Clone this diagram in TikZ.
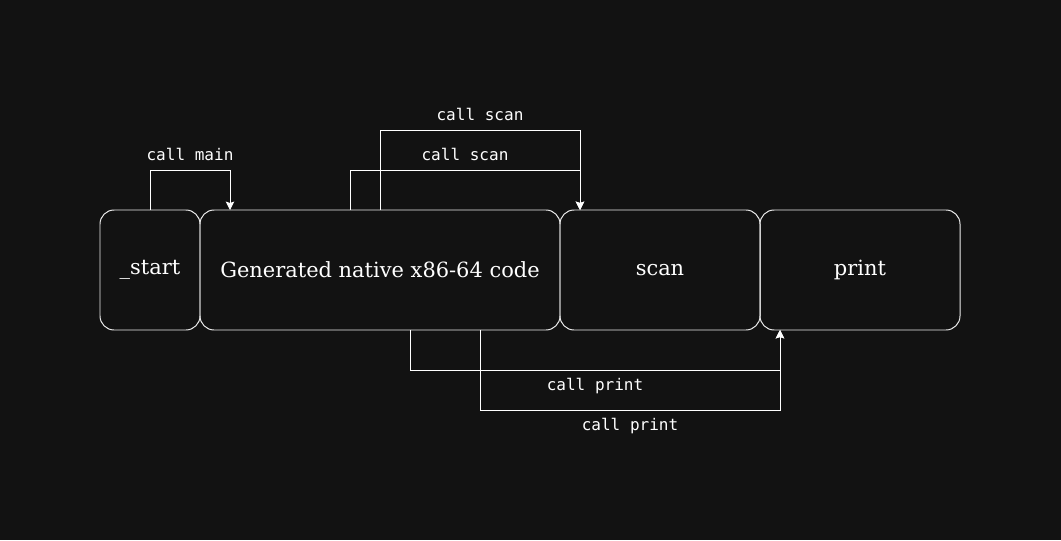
\documentclass[tikz,border=0pt]{standalone}
\usepackage{fontspec}
\setmainfont{DejaVu Serif}
\setmonofont{DejaVu Sans Mono}
\usepackage{tikz}
\usetikzlibrary{arrows.meta, positioning, calc}
\definecolor{CanvasDark}{RGB}{18,18,18}
\definecolor{LineLight}{RGB}{235,235,235}

\begin{document}
\begin{tikzpicture}[
    blk/.style={draw=LineLight,rounded corners=10pt,line width=0.7pt,
               text=white,font=\fontsize{14.9}{18}\selectfont,align=center,
               minimum height=3cm,outer sep=0pt,inner sep=0pt},
    arr/.style={-{Stealth[length=6pt,width=6pt,inset=1pt]},draw=white,
               line width=0.7pt},
    lbl/.style={text=white,font=\ttfamily\fontsize{11.4}{13}\selectfont,
               inner sep=0pt}
  ]
    \fill[CanvasDark] (0,0) rectangle (26.525,13.5);
    \useasboundingbox (0,0) rectangle (26.525,13.5);
    \node[blk,minimum width=2.5cm] (start) at (3.75,6.75) {\_start};
    \node[blk,minimum width=9cm,right=0pt of start] (gen) {Generated native x86-64 code};
    \node[blk,minimum width=5cm,right=0pt of gen] (scan) {scan};
    \node[blk,minimum width=5cm,right=0pt of scan] (print) {print};
    % calls above the boxes
    \draw[arr] (start.north) -- ++(0,1)
        -| node[lbl,pos=0.25,above=0.225cm] (lmain) {call main} ([xshift=0.75cm]gen.north west);
    \draw[arr] (gen.north) -- ++(0,2)
        -| node[lbl,pos=0.25,above=0.225cm] (lscanA) {call scan} ([xshift=0.5cm]scan.north west);
    \draw[arr] ([xshift=-0.75cm]gen.north) -- ++(0,1)
        -| node[lbl,pos=0.25,above=0.225cm] (lscanB) {call scan} ([xshift=0.5cm]scan.north west);
    % calls below the boxes
    \draw[arr] ([xshift=0.75cm]gen.south) -- ++(0,-1)
        -| node[lbl,pos=0.25,below=0.2cm] (lprintA) {call print} ([xshift=0.5cm]print.south west);
    \draw[arr] ([xshift=2.5cm]gen.south) -- ++(0,-2)
        -| node[lbl,pos=0.25,below=0.2cm] (lprintB) {call print} ([xshift=0.5cm]print.south west);
  \end{tikzpicture}
\end{document}
